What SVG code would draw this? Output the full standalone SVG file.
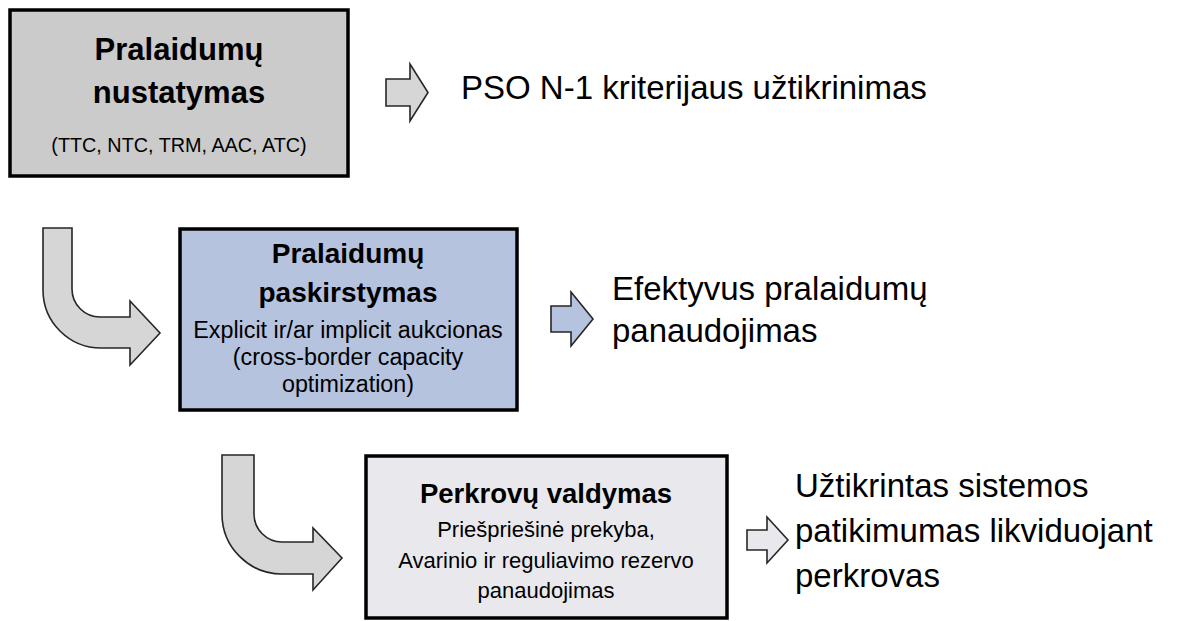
<svg xmlns="http://www.w3.org/2000/svg" width="1179" height="621" viewBox="0 0 1179 621">
<style>
text{font-family:"Liberation Sans",Arial,sans-serif;fill:#000}
.box{stroke:#000;stroke-width:3.5}
.t{font-weight:bold;text-anchor:middle}
.s{text-anchor:middle}
.out{font-size:33px}
.arr{stroke:#262626;stroke-width:1.6;stroke-linejoin:miter}
.gray{fill:#d6d6d6}
</style>
<rect width="1179" height="621" fill="#fff"/>

<g id="node-nustatymas">
<rect class="box" x="10" y="10" width="338" height="166" fill="#cbcbcb"/>
<text class="t" x="179" y="60" font-size="31">Pralaidumų</text>
<text class="t" x="179" y="103" font-size="31">nustatymas</text>
<text class="s" x="179" y="152" font-size="19.8">(TTC, NTC, TRM, AAC, ATC)</text>
</g>

<g id="node-paskirstymas">
<rect class="box" x="180" y="229" width="337" height="181" fill="#b6c3de"/>
<text class="t" x="348" y="263" font-size="28">Pralaidumų</text>
<text class="t" x="348" y="302" font-size="28">paskirstymas</text>
<text class="s" x="348" y="338" font-size="23.3">Explicit ir/ar implicit aukcionas</text>
<text class="s" x="348" y="365" font-size="23.3">(cross-border capacity</text>
<text class="s" x="348" y="392" font-size="23.3">optimization)</text>
</g>

<g id="node-valdymas">
<rect class="box" x="366" y="456" width="361" height="162" fill="#e9e9ed"/>
<text class="t" x="546" y="503" font-size="27.5">Perkrovų valdymas</text>
<text class="s" x="546" y="537" font-size="22">Priešpriešinė prekyba,</text>
<text class="s" x="546" y="568" font-size="22">Avarinio ir reguliavimo rezervo</text>
<text class="s" x="546" y="598" font-size="22">panaudojimas</text>
</g>

<g id="node-out1">
<text class="out" x="461" y="99">PSO N-1 kriterijaus užtikrinimas</text>
</g>
<g id="node-out2">
<text class="out" x="612" y="300">Efektyvus pralaidumų</text>
<text class="out" x="612" y="342">panaudojimas</text>
</g>
<g id="node-out3">
<text class="out" x="795" y="497" font-size="33.5">Užtikrintas sistemos</text>
<text class="out" x="795" y="542" font-size="33.5">patikimumas likviduojant</text>
<text class="out" x="795" y="587" font-size="33.5">perkrovas</text>
</g>

<g id="connectors">
<path class="arr gray" d="M386 79 H410 V64 L428 92.5 L410 121 V106 H386 Z"/>
<path class="arr" fill="#b6c3de" d="M551 306 H571 V292 L593 319 L571 346 V332 H551 Z"/>
<path class="arr" fill="#e9e9ed" d="M747 530 H767 V517 L788 540 L767 563 V550 H747 Z"/>
<path class="arr gray" d="M43 228 H72 V289 A28 28 0 0 0 100 317 H130 V301 L160 333 L130 365 V348 H101 A58 58 0 0 1 43 290 Z"/>
<path class="arr gray" d="M222 455 H254 V514 A28 28 0 0 0 282 542 H313 V528 L342 558 L313 590 V574 H282 A60 60 0 0 1 222 514 Z"/>
</g>
</svg>
